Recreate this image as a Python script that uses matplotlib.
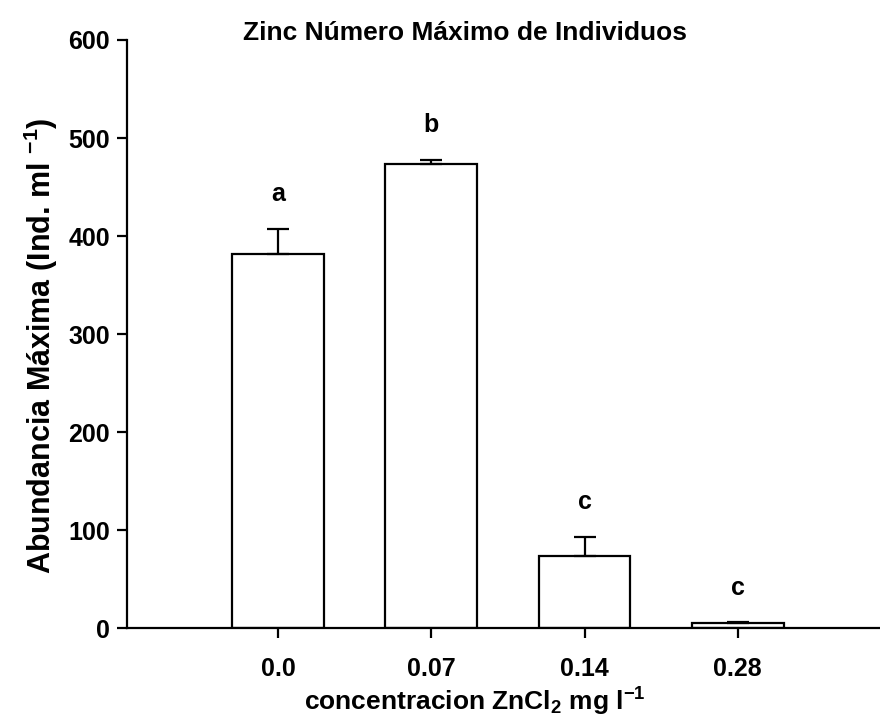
import matplotlib

matplotlib.use("Agg")
import matplotlib.pyplot as plt
import numpy as np

concentrations = ["0.0", "0.07", "0.14", "0.28"]
abundance = [382, 473, 74, 5]
error_up = [25, 5, 19, 1]
groups = ["a", "b", "c", "c"]

plt.rcParams["font.family"] = ["Liberation Sans", "DejaVu Sans"]
plt.rcParams["font.weight"] = "bold"
plt.rcParams["mathtext.fontset"] = "custom"
plt.rcParams["mathtext.rm"] = "Liberation Sans:bold"
plt.rcParams["mathtext.it"] = "Liberation Sans:bold"
plt.rcParams["mathtext.bf"] = "Liberation Sans:bold"
plt.rcParams["mathtext.default"] = "bf"

fig = plt.figure(figsize=(8.8, 7.27), dpi=100)
ax = fig.add_axes([0.144, 0.136, 0.856, 0.809])

x = np.arange(len(concentrations))
ax.bar(x, abundance, width=0.6, color="white", edgecolor="black", linewidth=1.6, zorder=2)
ax.errorbar(x, abundance, yerr=[np.zeros(len(x)), error_up], fmt="none",
            ecolor="black", elinewidth=1.6, capsize=8, capthick=1.6, zorder=3)

for xi, top, err, g in zip(x, abundance, error_up, groups):
    ax.annotate(g, (xi, top + err), xytext=(0, 25), textcoords="offset points",
                ha="center", va="center", fontsize=18, fontweight="bold")

ax.set_xlim(-0.99, 3.93)
ax.set_ylim(0, 600)
ax.set_xticks(x)
ax.set_xticklabels(concentrations)
ax.set_yticks(np.arange(0, 601, 100))

for side in ["top", "right"]:
    ax.spines[side].set_visible(False)
for side in ["left", "bottom"]:
    ax.spines[side].set_linewidth(1.6)

ax.tick_params(axis="both", direction="out", length=7, width=1.6, labelsize=18)
ax.tick_params(axis="y", pad=5)
ax.tick_params(axis="x", pad=14)

fig.text(0.528, 0.945, "Zinc Número Máximo de Individuos", fontsize=19,
         fontweight="bold", ha="center", va="baseline")
ax.set_xlabel("concentracion ZnCl$_2$ mg l$^{-1}$", fontsize=19, fontweight="bold")
ax.set_ylabel("Abundancia Máxima (Ind. ml $^{-1}$)", fontsize=22, fontweight="bold")
ax.xaxis.set_label_coords(0.462, -0.098)
ax.yaxis.set_label_coords(-0.089, 0.48)

fig.savefig("out.png", dpi=100)
plt.close(fig)
